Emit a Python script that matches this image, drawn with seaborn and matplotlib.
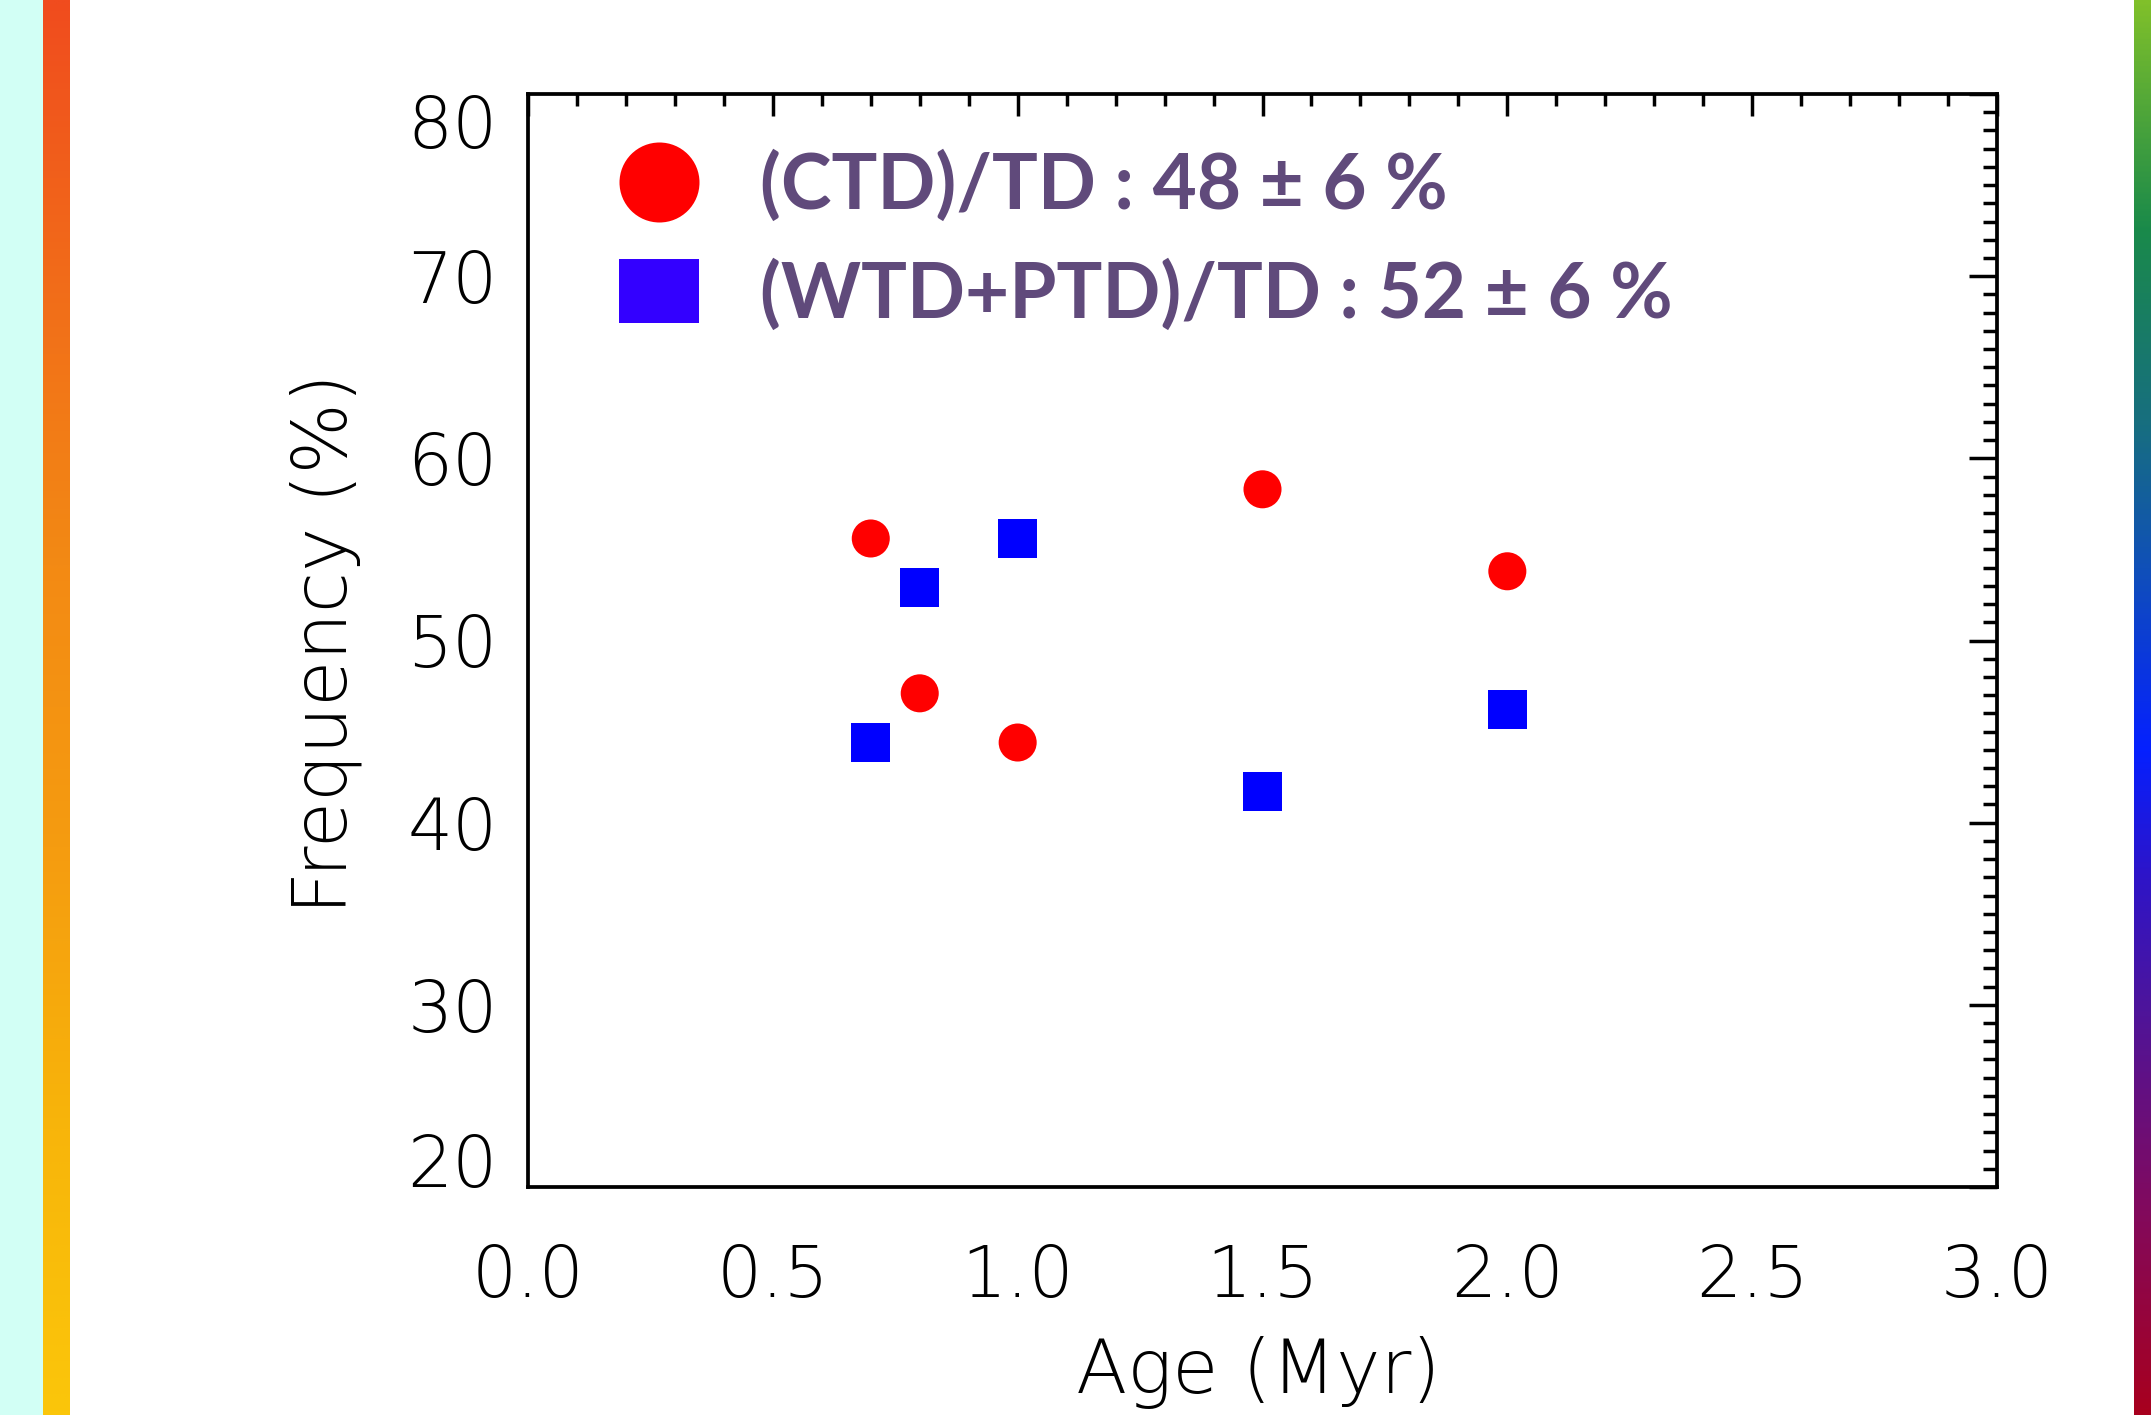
import numpy as np
import matplotlib
matplotlib.use("Agg")
import matplotlib.pyplot as plt
import seaborn as sns
from matplotlib import font_manager as fm
from matplotlib.lines import Line2D
from matplotlib.path import Path
from matplotlib.patches import Rectangle
from matplotlib.ticker import MultipleLocator, FormatStrFormatter
from matplotlib.colors import LinearSegmentedColormap

# ---- data: transition-disk fractions per cluster age ----
ages = [0.7, 0.8, 1.0, 1.5, 2.0]
ctd_freq = [55.6, 47.1, 44.4, 58.3, 53.8]          # (CTD)/TD, %
wtd_ptd_freq = [44.4, 52.9, 55.6, 41.7, 46.2]      # (WTD+PTD)/TD, %
legend_labels = ["(CTD)/TD : 48 \u00b1 6 %", "(WTD+PTD)/TD : 52 \u00b1 6 %"]
x_ticks = [0.0, 0.5, 1.0, 1.5, 2.0, 2.5, 3.0]
y_ticks = [20, 30, 40, 50, 60, 70, 80]

sns.set_style("white")


def pick_thin_family(families, target=200):
    """Return (family, weight) of the lightest available face near `target`."""
    for fam in families:
        ws = []
        for f in fm.fontManager.ttflist:
            if f.name == fam and f.style == "normal":
                w = f.weight
                if isinstance(w, str):
                    w = fm.weight_dict.get(w, 400)
                ws.append(int(w))
        light = [w for w in ws if w <= 300]
        if light:
            return fam, min(light, key=lambda w: abs(w - target))
    return "DejaVu Sans", 400


thin_family, thin_weight = pick_thin_family(["DejaVu Sans", "Roboto", "Lato", "Open Sans", "Noto Sans"])
tick_font = dict(family=[thin_family, "DejaVu Sans"], weight=thin_weight, size=51)
label_font = dict(family=[thin_family, "DejaVu Sans"], weight=thin_weight, size=54)

W, H = 2151, 1415
fig = plt.figure(figsize=(W / 100, H / 100), dpi=100, facecolor="white")

# decorative side bands
fig.add_artist(Rectangle((0, 0), 43 / W, 1, transform=fig.transFigure,
                         facecolor="#D2FFF5", edgecolor="none", zorder=0))
left_cmap = LinearSegmentedColormap.from_list(
    "band_left",
    [(0.0, "#F04C1E"), (0.25, "#F27418"), (0.4, "#F38A14"),
     (0.6, "#F59C10"), (0.8, "#F8B50A"), (1.0, "#FBC60A")])
right_cmap = LinearSegmentedColormap.from_list(
    "band_right",
    [(0.0, "#80C02A"), (0.16, "#1A8A4A"), (0.30, "#176E80"), (0.40, "#1050B8"),
     (0.53, "#0520FF"), (0.62, "#2E14C8"), (0.72, "#501498"), (0.85, "#800A60"),
     (1.0, "#A8001E")])
grad = np.linspace(0, 1, 512)[:, None]
band_l = fig.add_axes([43 / W, 0, 27 / W, 1])
band_l.imshow(grad, aspect="auto", cmap=left_cmap, origin="upper")
band_l.set_axis_off()
band_r = fig.add_axes([2134 / W, 0, 17 / W, 1])
band_r.imshow(grad, aspect="auto", cmap=right_cmap, origin="upper")
band_r.set_axis_off()

# main panel
ax = fig.add_axes([528 / W, 1 - 1187 / H, (1997 - 528) / W, (1187 - 94) / H])
ax.set_facecolor("white")

sns.scatterplot(x=ages, y=ctd_freq, marker="o", s=750, color="#FF0000",
                edgecolor="none", linewidth=0, ax=ax, legend=False, zorder=3)
sns.scatterplot(x=ages, y=wtd_ptd_freq, marker="s", s=790, color="#0000FF",
                edgecolor="none", linewidth=0, ax=ax, legend=False, zorder=3)

ax.set_xlim(0, 3)
ax.set_ylim(20, 80)
ax.set_xticks(x_ticks)
ax.set_yticks(y_ticks)
ax.xaxis.set_minor_locator(MultipleLocator(0.1))
ax.yaxis.set_minor_locator(MultipleLocator(1))
ax.xaxis.set_major_formatter(FormatStrFormatter("%.1f"))
ax.yaxis.set_major_formatter(FormatStrFormatter("%d"))

for sp in ax.spines.values():
    sp.set_visible(True)
    sp.set_color("black")
    sp.set_linewidth(2.7)

ax.tick_params(which="both", direction="in", top=True, right=True,
               color="black", width=2.5)
ax.tick_params(axis="y", which="major", length=20, pad=22)
ax.tick_params(axis="y", which="minor", length=10)
ax.tick_params(axis="x", which="major", length=16, pad=40)
ax.tick_params(axis="x", which="minor", length=8.5)

for lab in ax.get_xticklabels() + ax.get_yticklabels():
    lab.set_fontfamily(tick_font["family"])
    lab.set_fontweight(tick_font["weight"])
    lab.set_fontsize(tick_font["size"])
    lab.set_color("black")

# keep the end labels of the y axis inside the frame
yt = ax.yaxis.get_major_ticks()
yt[0].label1.set_verticalalignment("baseline")
yt[-1].label1.set_verticalalignment("top")

ax.set_xlabel("Age (Myr)", **label_font, color="black")
ax.set_ylabel("Frequency (%)", **label_font, color="black")
ax.xaxis.set_label_coords(0.497, -0.136)
ax.yaxis.set_label_coords(-0.113, 0.497)

# legend keys: filled circle and a slightly flattened box
box = Path([(-0.5, -0.4), (0.5, -0.4), (0.5, 0.4), (-0.5, 0.4), (-0.5, -0.4)],
           [Path.MOVETO, Path.LINETO, Path.LINETO, Path.LINETO, Path.CLOSEPOLY])
handles = [
    Line2D([], [], ls="none", marker="o", markersize=57.6,
           markerfacecolor="#FF0000", markeredgewidth=0),
    Line2D([], [], ls="none", marker=box, markersize=57.6,
           markerfacecolor="#3300FF", markeredgewidth=0),
]
ax.legend(handles, legend_labels, loc="upper left", bbox_to_anchor=(0.058, 0.949),
          frameon=False, borderpad=0, borderaxespad=0, handlelength=1.2,
          handletextpad=0.72, labelspacing=0.48, numpoints=1,
          prop=dict(family=["Lato", "DejaVu Sans"], weight="bold", size=55),
          labelcolor="#604A7B")

fig.savefig("out.png", dpi=100, facecolor="white")
